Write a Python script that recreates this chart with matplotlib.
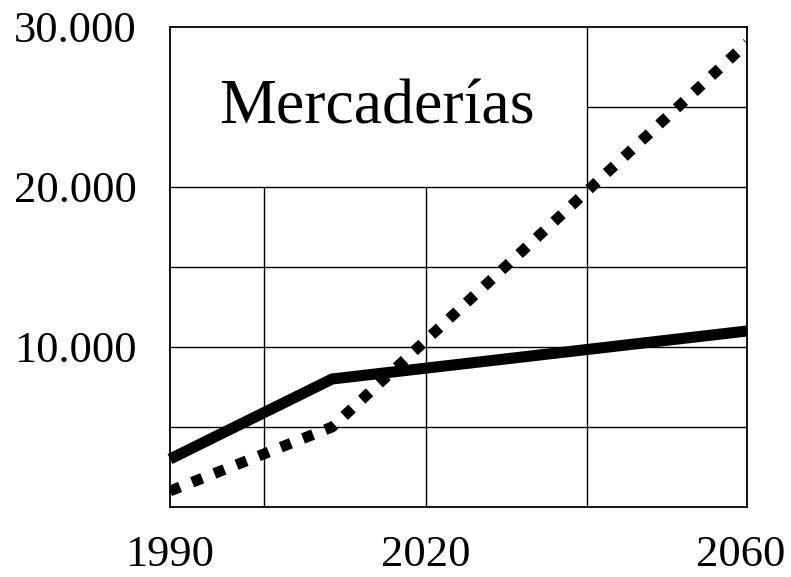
import numpy as np
import matplotlib
matplotlib.use("Agg")
import matplotlib.pyplot as plt
import matplotlib.transforms as mtransforms

plt.rcParams['font.family'] = ['Liberation Serif', 'DejaVu Serif']

# Data
years = [1990, 2009, 2060]
solid_vals = [3000, 8000, 11000]
dotted_vals = [1000, 5000, 29000]

xtick_years = [1990, 2020, 2060]
xtick_labels = ["1990", "2020", "2060"]
ytick_vals = [10000, 20000, 30000]
ytick_labels = ["10.000", "20.000", "30.000"]

# grid layout (table-like)
col_lines = [2001, 2020]
full_rows = [5000, 10000, 15000, 20000]
title = "Mercaderías"

# the x axis is not evenly spaced in the original: 1990-2020 is narrower per year
knots_yr = [1990, 2020, 2060]
knots_pos = [0, 256, 577]


def fwd(x):
    return np.interp(x, knots_yr, knots_pos)


def inv(p):
    return np.interp(p, knots_pos, knots_yr)


fig = plt.figure(figsize=(7.91, 5.77), dpi=100)
ax = fig.add_axes([170 / 791, 70 / 577, 577 / 791, 480 / 577])
ax.set_xscale('function', functions=(fwd, inv))
ax.set_xlim(1990, 2060)
ax.set_ylim(0, 30000)

lw_grid = 1.0
ax.hlines(full_rows, 1990, 2060, colors='black', linewidth=lw_grid, zorder=1)
ax.hlines([25000], 2040, 2060, colors='black', linewidth=lw_grid, zorder=1)
ax.vlines(col_lines, 0, 20000, colors='black', linewidth=lw_grid, zorder=1)
ax.vlines([2040], 0, 30000, colors='black', linewidth=lw_grid, zorder=1)

for s in ax.spines.values():
    s.set_linewidth(1.3)

ax.plot(years, solid_vals, color='black', linewidth=8, solid_capstyle='butt',
        solid_joinstyle='miter', zorder=3, clip_on=False)
ax.plot(years, dotted_vals, color='black', linewidth=7.8, linestyle=(0, (1, 1.2)),
        dash_capstyle='butt', zorder=3)

ax.text(0.358, 0.80, title, transform=ax.transAxes, fontsize=46,
        ha='center', va='baseline')

ax.set_xticks(xtick_years)
ax.set_xticklabels(xtick_labels)
ax.set_yticks(ytick_vals)
ax.set_yticklabels(ytick_labels)
ax.tick_params(axis='both', length=0, labelsize=32)
ax.tick_params(axis='x', pad=20)
ax.tick_params(axis='y', pad=24)
ax.minorticks_off()

# last year label sits a little left of the right edge, as in the original
last = ax.get_xticklabels()[-1]
last.set_transform(last.get_transform() +
                   mtransforms.ScaledTranslation(-6 / 100, 0, fig.dpi_scale_trans))

fig.savefig("out.png", dpi=100)
